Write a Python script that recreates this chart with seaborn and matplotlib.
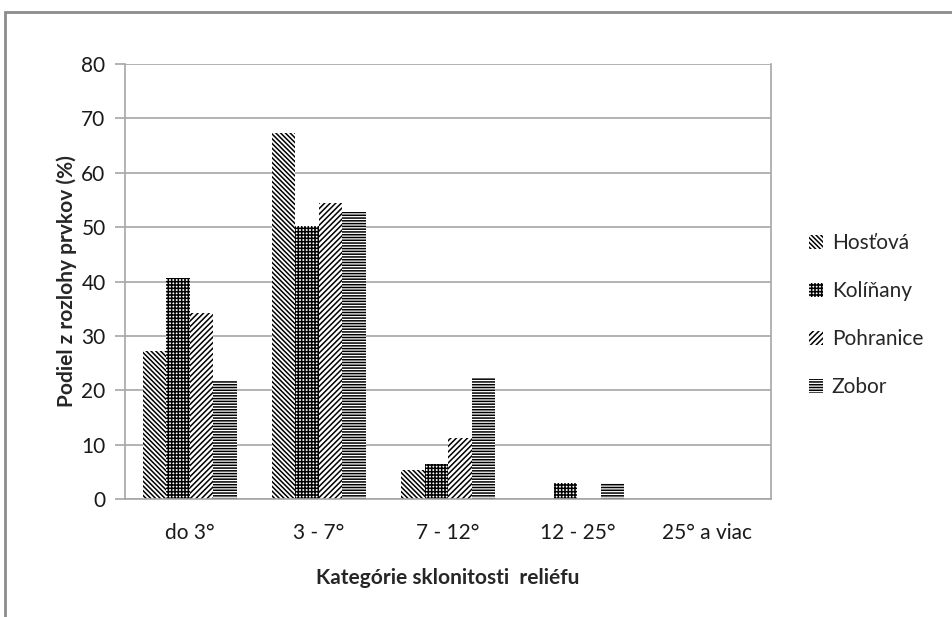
import pandas as pd
import seaborn as sns
import matplotlib.pyplot as plt
from matplotlib.patches import Rectangle

# Kategórie sklonu a podiely jednotlivých lokalít (odčítané z grafu)
kategorie = ['do 3°', '3 - 7°', '7 - 12°', '12 - 25°', '25° a viac']
lokality = ['Hosťová', 'Kolíňany', 'Pohranice', 'Zobor']
hostova = [27.3, 67.4, 5.3, 0.0, 0.0]
kolinany = [40.6, 50.2, 6.4, 2.9, 0.0]
pohranice = [34.3, 54.4, 11.2, 0.0, 0.0]
zobor = [21.7, 52.7, 22.2, 2.9, 0.0]

df = pd.DataFrame({'kategoria': kategorie * 4,
                   'lokalita': [l for l in lokality for _ in kategorie],
                   'podiel': hostova + kolinany + pohranice + zobor})

sns.set_style('white')
plt.rcParams['font.family'] = ['Lato', 'DejaVu Sans']
plt.rcParams['hatch.linewidth'] = 1.1

fig = plt.figure(figsize=(9.52, 6.17), dpi=100)
ax = fig.add_axes([0.1313, 0.1912, 0.6787, 0.7051])

sns.barplot(data=df, x='kategoria', y='podiel', hue='lokalita', order=kategorie,
            hue_order=lokality, width=0.727, ax=ax, legend=False)

# vzory výplne ako v Exceli
styly = [('white', 'black', '\\\\\\\\\\\\\\'),
         ('white', 'black', '+++++'),
         ('white', 'black', '//////'),
         ('white', 'black', '------')]
for cont, (fc, hc, h) in zip(ax.containers, styly):
    for bar in cont:
        bar.set_facecolor(fc)
        bar.set_edgecolor(hc)
        bar.set_hatch(h)
        bar.set_linewidth(0)

ax.set_ylim(0, 80)
ax.set_yticks(range(0, 81, 10))
ax.yaxis.grid(True, color='#a6a6a6', linewidth=1.2)
ax.set_axisbelow(True)
for s in ['left', 'bottom', 'right']:
    ax.spines[s].set_color('#a6a6a6')
    ax.spines[s].set_linewidth(1.2)
ax.spines['top'].set_visible(False)
ax.tick_params(axis='y', length=7, color='#a6a6a6', width=1.2, labelsize=15,
               pad=7, left=True, labelcolor='#1a1a1a')
ax.tick_params(axis='x', length=0, labelsize=15, pad=17, labelcolor='#1a1a1a')

ax.set_xlabel('Kategórie sklonitosti  reliéfu', fontsize=15, fontweight='bold', labelpad=18)
ax.set_ylabel('Podiel z rozlohy prvkov (%)', fontsize=15, fontweight='bold', labelpad=3)

handles = [Rectangle((0, 0), 1, 1, facecolor=fc, edgecolor=hc, hatch=h, linewidth=0)
           for fc, hc, h in styly]
fig.legend(handles, lokality, loc='center left', bbox_to_anchor=(0.83, 0.489),
           frameon=False, fontsize=15, handlelength=0.7, handleheight=0.7,
           handletextpad=0.4, labelspacing=1.35)

# vonkajší rámček grafu
fig.patches.append(Rectangle((5 / 952, -0.1), 1.2, 1 - 12 / 617 + 0.1,
                             transform=fig.transFigure, fill=False,
                             edgecolor='#8c8c8c', linewidth=2, clip_on=False))

plt.savefig('out.png', dpi=100)
